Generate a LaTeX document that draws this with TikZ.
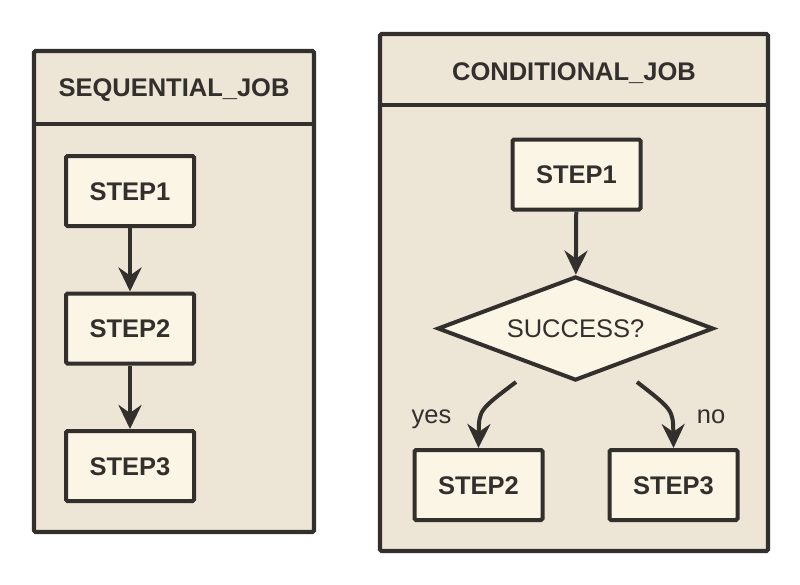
\documentclass[tikz,border=0pt]{standalone}
\usepackage{fontspec}
\setmainfont{Liberation Sans}
\usetikzlibrary{arrows.meta,shapes.geometric}
\definecolor{ink}{RGB}{50,47,44}
\definecolor{panel}{RGB}{237,230,214}
\definecolor{boxfill}{RGB}{251,245,230}
\newcommand{\bigfont}{\fontsize{25.5}{30}\selectfont}
\tikzset{
  container/.style={draw=ink, fill=panel, line width=4.2pt, rounded corners=1.5pt, minimum width=#1},
  stepbox/.style={draw=ink, fill=boxfill, line width=4pt, rounded corners=1.5pt,
     minimum width=128pt, minimum height=70pt, inner sep=0pt, font=\bigfont\bfseries,
     text height=18.3pt, text depth=0pt},
  headtext/.style={font=\bigfont\bfseries, text height=18.3pt, text depth=0pt, inner sep=0pt},
  decision/.style={diamond, draw=ink, fill=boxfill, line width=4pt, line join=miter,
     minimum width=276pt, minimum height=104pt, aspect=2.65, inner sep=0pt,
     font=\bigfont, text height=18.3pt, text depth=0pt},
  flow/.style={draw=ink, line width=4pt, -{Stealth[length=24pt,width=23pt,inset=8pt]}},
  lbl/.style={font=\bigfont, anchor=base, inner sep=0pt, text=ink},
  divider/.style={draw=ink, line width=4.2pt}
}
\begin{document}
\begin{tikzpicture}[x=1pt,y=-1pt]
\useasboundingbox (0,0) rectangle (800,584);
% left container
\node[container=280pt, minimum height=481pt] (lc) at (174,291.5) {};
\coordinate (lh) at (0,124);
\draw[divider] (lc.west |- lh) -- (lc.east |- lh);
\node[headtext, text=ink] (lt) at (174,87) {SEQUENTIAL\_JOB};
\node[stepbox, text=ink] (l1) at (130,191) {STEP1};
\node[stepbox, text=ink] (l2) at (130,328.5) {STEP2};
\node[stepbox, text=ink] (l3) at (130,466) {STEP3};
\draw[flow] (l1) -- (l2);
\draw[flow] (l2) -- (l3);
% right container
\node[container=388pt, minimum height=517pt] (rc) at (574,292.5) {};
\coordinate (rh) at (0,105);
\draw[divider] (rc.west |- rh) -- (rc.east |- rh);
\node[headtext, text=ink] (rt) at (574,71) {CONDITIONAL\_JOB};
\node[stepbox, text=ink] (r1) at (576.5,174.5) {STEP1};
\node[decision, text=ink] (d) at (575.5,328.5) {SUCCESS?};
\node[stepbox, text=ink] (r2) at (478.5,485) {STEP2};
\node[stepbox, text=ink] (r3) at (673.5,485) {STEP3};
\draw[flow] (r1) -- (d);
\coordinate (ys) at (516,382);
\coordinate (ns) at (637,382);
\draw[flow] (ys) .. controls (479,410) .. (r2.north);
\draw[flow] (ns) .. controls (673,410) .. (r3.north);
\node[lbl] (yl) at (431.5,423) {yes};
\node[lbl] (nl) at (711,423) {no};
\end{tikzpicture}
\end{document}
